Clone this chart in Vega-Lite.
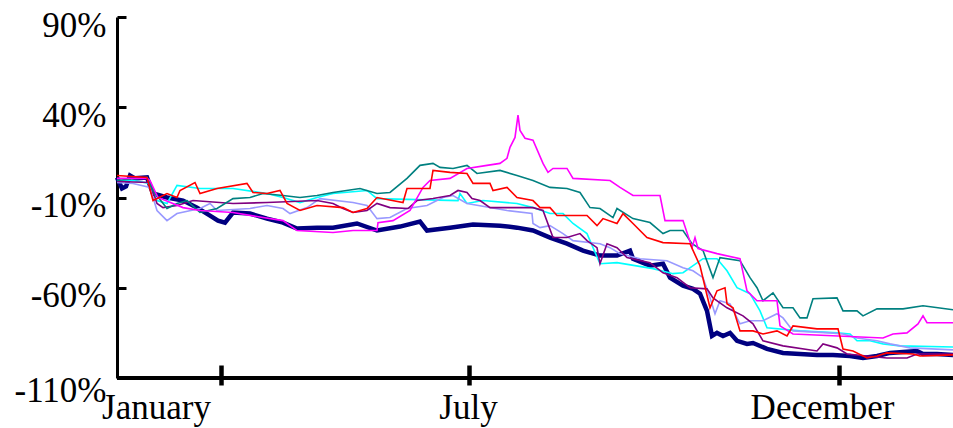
{
  "$schema": "https://vega.github.io/schema/vega-lite/v6.json",
  "width": 836,
  "height": 361,
  "autosize": {"type": "none"},
  "padding": {"left": 117, "top": 17, "right": 0, "bottom": 50},
  "background": "white",
  "config": {"view": {"stroke": null}, "axis": {"labelFont": "Liberation Serif", "labelFontSize": 35, "labelColor": "black", "domainColor": "black", "tickColor": "black", "grid": false, "title": null}},
  "data": {"values": [
    {"s":"navy","t":0,"v":1.1},{"s":"navy","t":5,"v":-5.0},{"s":"navy","t":9,"v":-3.9},{"s":"navy","t":13,"v":2.2},{"s":"navy","t":18,"v":0.6},{"s":"navy","t":30,"v":1.1},{"s":"navy","t":36,"v":-7.8},{"s":"navy","t":50,"v":-10.0},{"s":"navy","t":66,"v":-11.7},{"s":"navy","t":80,"v":-15.6},{"s":"navy","t":93,"v":-20.0},{"s":"navy","t":101,"v":-22.8},{"s":"navy","t":108,"v":-23.9},{"s":"navy","t":116,"v":-18.3},{"s":"navy","t":133,"v":-18.9},{"s":"navy","t":150,"v":-21.7},{"s":"navy","t":166,"v":-23.9},{"s":"navy","t":180,"v":-27.2},{"s":"navy","t":200,"v":-26.7},{"s":"navy","t":216,"v":-26.7},{"s":"navy","t":240,"v":-24.4},{"s":"navy","t":260,"v":-28.3},{"s":"navy","t":283,"v":-26.1},{"s":"navy","t":303,"v":-23.3},{"s":"navy","t":310,"v":-28.3},{"s":"navy","t":333,"v":-26.7},{"s":"navy","t":356,"v":-25.0},{"s":"navy","t":383,"v":-25.6},{"s":"navy","t":400,"v":-26.7},{"s":"navy","t":416,"v":-28.3},{"s":"navy","t":433,"v":-32.2},{"s":"navy","t":450,"v":-35.6},{"s":"navy","t":466,"v":-39.4},{"s":"navy","t":483,"v":-42.2},{"s":"navy","t":500,"v":-42.2},{"s":"navy","t":513,"v":-39.4},{"s":"navy","t":516,"v":-43.9},{"s":"navy","t":533,"v":-47.8},{"s":"navy","t":546,"v":-46.7},{"s":"navy","t":553,"v":-54.4},{"s":"navy","t":566,"v":-58.9},{"s":"navy","t":576,"v":-60.6},{"s":"navy","t":583,"v":-63.3},{"s":"navy","t":590,"v":-72.8},{"s":"navy","t":595,"v":-86.7},{"s":"navy","t":600,"v":-85.0},{"s":"navy","t":606,"v":-86.7},{"s":"navy","t":613,"v":-85.0},{"s":"navy","t":620,"v":-89.4},{"s":"navy","t":630,"v":-91.1},{"s":"navy","t":636,"v":-90.6},{"s":"navy","t":650,"v":-93.9},{"s":"navy","t":666,"v":-96.1},{"s":"navy","t":683,"v":-96.7},{"s":"navy","t":700,"v":-97.2},{"s":"navy","t":716,"v":-97.2},{"s":"navy","t":733,"v":-97.8},{"s":"navy","t":746,"v":-98.9},{"s":"navy","t":760,"v":-97.8},{"s":"navy","t":773,"v":-96.1},{"s":"navy","t":786,"v":-95.6},{"s":"navy","t":800,"v":-95.0},{"s":"navy","t":806,"v":-96.7},{"s":"navy","t":820,"v":-96.7},{"s":"navy","t":836,"v":-97.2},

    {"s":"cyan","t":0,"v":-0.6},{"s":"cyan","t":16,"v":-0.6},{"s":"cyan","t":33,"v":-2.2},{"s":"cyan","t":40,"v":-11.7},{"s":"cyan","t":50,"v":-13.3},{"s":"cyan","t":60,"v":-3.3},{"s":"cyan","t":83,"v":-5.0},{"s":"cyan","t":116,"v":-5.0},{"s":"cyan","t":150,"v":-7.8},{"s":"cyan","t":166,"v":-10.0},{"s":"cyan","t":183,"v":-12.8},{"s":"cyan","t":200,"v":-10.0},{"s":"cyan","t":216,"v":-7.8},{"s":"cyan","t":250,"v":-6.1},{"s":"cyan","t":260,"v":-10.6},{"s":"cyan","t":341,"v":-11.7},{"s":"cyan","t":343,"v":-7.8},{"s":"cyan","t":350,"v":-13.3},{"s":"cyan","t":366,"v":-11.7},{"s":"cyan","t":400,"v":-13.3},{"s":"cyan","t":416,"v":-15.6},{"s":"cyan","t":433,"v":-18.9},{"s":"cyan","t":446,"v":-18.9},{"s":"cyan","t":456,"v":-24.4},{"s":"cyan","t":470,"v":-30.0},{"s":"cyan","t":483,"v":-46.7},{"s":"cyan","t":500,"v":-46.1},{"s":"cyan","t":536,"v":-49.4},{"s":"cyan","t":556,"v":-52.2},{"s":"cyan","t":566,"v":-51.7},{"s":"cyan","t":586,"v":-43.9},{"s":"cyan","t":600,"v":-43.9},{"s":"cyan","t":610,"v":-50.6},{"s":"cyan","t":620,"v":-60.0},{"s":"cyan","t":633,"v":-63.3},{"s":"cyan","t":643,"v":-72.8},{"s":"cyan","t":650,"v":-82.2},{"s":"cyan","t":683,"v":-83.9},{"s":"cyan","t":720,"v":-85.0},{"s":"cyan","t":733,"v":-85.6},{"s":"cyan","t":740,"v":-89.4},{"s":"cyan","t":753,"v":-89.4},{"s":"cyan","t":766,"v":-91.1},{"s":"cyan","t":783,"v":-92.2},{"s":"cyan","t":836,"v":-92.8},

    {"s":"lavender","t":0,"v":-1.7},{"s":"lavender","t":16,"v":-2.2},{"s":"lavender","t":33,"v":-4.4},{"s":"lavender","t":40,"v":-17.2},{"s":"lavender","t":50,"v":-22.8},{"s":"lavender","t":60,"v":-18.9},{"s":"lavender","t":83,"v":-16.1},{"s":"lavender","t":93,"v":-13.3},{"s":"lavender","t":100,"v":-17.2},{"s":"lavender","t":133,"v":-16.1},{"s":"lavender","t":150,"v":-14.4},{"s":"lavender","t":166,"v":-16.1},{"s":"lavender","t":173,"v":-18.9},{"s":"lavender","t":190,"v":-15.6},{"s":"lavender","t":203,"v":-10.6},{"s":"lavender","t":236,"v":-12.8},{"s":"lavender","t":250,"v":-14.4},{"s":"lavender","t":260,"v":-21.7},{"s":"lavender","t":273,"v":-21.1},{"s":"lavender","t":290,"v":-16.1},{"s":"lavender","t":310,"v":-14.4},{"s":"lavender","t":326,"v":-10.0},{"s":"lavender","t":336,"v":-8.9},{"s":"lavender","t":350,"v":-13.3},{"s":"lavender","t":390,"v":-17.2},{"s":"lavender","t":415,"v":-18.9},{"s":"lavender","t":416,"v":-24.4},{"s":"lavender","t":423,"v":-26.7},{"s":"lavender","t":433,"v":-25.6},{"s":"lavender","t":446,"v":-30.0},{"s":"lavender","t":456,"v":-33.9},{"s":"lavender","t":483,"v":-35.6},{"s":"lavender","t":493,"v":-37.8},{"s":"lavender","t":503,"v":-41.1},{"s":"lavender","t":523,"v":-43.9},{"s":"lavender","t":550,"v":-45.0},{"s":"lavender","t":566,"v":-48.9},{"s":"lavender","t":576,"v":-50.6},{"s":"lavender","t":586,"v":-54.4},{"s":"lavender","t":593,"v":-65.6},{"s":"lavender","t":598,"v":-74.4},{"s":"lavender","t":603,"v":-67.2},{"s":"lavender","t":613,"v":-68.9},{"s":"lavender","t":623,"v":-80.0},{"s":"lavender","t":633,"v":-78.3},{"s":"lavender","t":646,"v":-78.3},{"s":"lavender","t":660,"v":-74.4},{"s":"lavender","t":666,"v":-76.7},{"s":"lavender","t":676,"v":-83.9},{"s":"lavender","t":713,"v":-85.0},{"s":"lavender","t":726,"v":-85.6},{"s":"lavender","t":740,"v":-87.8},{"s":"lavender","t":760,"v":-89.4},{"s":"lavender","t":773,"v":-91.1},{"s":"lavender","t":793,"v":-93.3},{"s":"lavender","t":836,"v":-94.4},

    {"s":"purple","t":0,"v":-1.1},{"s":"purple","t":33,"v":-1.7},{"s":"purple","t":40,"v":-13.3},{"s":"purple","t":46,"v":-15.6},{"s":"purple","t":60,"v":-14.4},{"s":"purple","t":76,"v":-11.7},{"s":"purple","t":116,"v":-13.3},{"s":"purple","t":150,"v":-12.8},{"s":"purple","t":200,"v":-11.7},{"s":"purple","t":216,"v":-13.3},{"s":"purple","t":226,"v":-16.1},{"s":"purple","t":236,"v":-18.3},{"s":"purple","t":250,"v":-17.2},{"s":"purple","t":260,"v":-13.3},{"s":"purple","t":273,"v":-15.6},{"s":"purple","t":291,"v":-16.1},{"s":"purple","t":300,"v":-11.7},{"s":"purple","t":316,"v":-10.6},{"s":"purple","t":333,"v":-8.9},{"s":"purple","t":341,"v":-6.1},{"s":"purple","t":350,"v":-7.2},{"s":"purple","t":355,"v":-10.6},{"s":"purple","t":363,"v":-11.7},{"s":"purple","t":373,"v":-15.6},{"s":"purple","t":416,"v":-15.6},{"s":"purple","t":426,"v":-17.2},{"s":"purple","t":436,"v":-32.2},{"s":"purple","t":450,"v":-32.2},{"s":"purple","t":463,"v":-30.0},{"s":"purple","t":470,"v":-33.9},{"s":"purple","t":480,"v":-37.8},{"s":"purple","t":483,"v":-46.7},{"s":"purple","t":490,"v":-35.6},{"s":"purple","t":500,"v":-37.8},{"s":"purple","t":510,"v":-43.3},{"s":"purple","t":533,"v":-46.1},{"s":"purple","t":546,"v":-51.7},{"s":"purple","t":560,"v":-54.4},{"s":"purple","t":573,"v":-60.0},{"s":"purple","t":590,"v":-60.6},{"s":"purple","t":596,"v":-65.6},{"s":"purple","t":610,"v":-71.1},{"s":"purple","t":626,"v":-75.6},{"s":"purple","t":636,"v":-80.0},{"s":"purple","t":646,"v":-89.4},{"s":"purple","t":666,"v":-92.2},{"s":"purple","t":700,"v":-95.0},{"s":"purple","t":706,"v":-91.1},{"s":"purple","t":720,"v":-93.3},{"s":"purple","t":730,"v":-96.7},{"s":"purple","t":770,"v":-98.9},{"s":"purple","t":790,"v":-98.9},{"s":"purple","t":800,"v":-96.7},{"s":"purple","t":836,"v":-96.7},

    {"s":"teal","t":0,"v":-0.6},{"s":"teal","t":30,"v":1.1},{"s":"teal","t":36,"v":-6.1},{"s":"teal","t":50,"v":-16.1},{"s":"teal","t":60,"v":-13.3},{"s":"teal","t":70,"v":-11.7},{"s":"teal","t":83,"v":-18.3},{"s":"teal","t":100,"v":-16.1},{"s":"teal","t":116,"v":-10.6},{"s":"teal","t":133,"v":-10.0},{"s":"teal","t":146,"v":-7.8},{"s":"teal","t":166,"v":-8.9},{"s":"teal","t":183,"v":-10.0},{"s":"teal","t":200,"v":-8.9},{"s":"teal","t":216,"v":-7.2},{"s":"teal","t":243,"v":-5.0},{"s":"teal","t":260,"v":-7.8},{"s":"teal","t":273,"v":-7.2},{"s":"teal","t":290,"v":0.6},{"s":"teal","t":303,"v":7.8},{"s":"teal","t":316,"v":8.9},{"s":"teal","t":323,"v":6.7},{"s":"teal","t":336,"v":6.1},{"s":"teal","t":350,"v":7.8},{"s":"teal","t":360,"v":3.3},{"s":"teal","t":383,"v":5.0},{"s":"teal","t":400,"v":2.2},{"s":"teal","t":416,"v":-0.6},{"s":"teal","t":433,"v":-4.4},{"s":"teal","t":450,"v":-5.0},{"s":"teal","t":463,"v":-7.2},{"s":"teal","t":473,"v":-15.6},{"s":"teal","t":483,"v":-16.1},{"s":"teal","t":496,"v":-21.1},{"s":"teal","t":500,"v":-16.1},{"s":"teal","t":516,"v":-21.7},{"s":"teal","t":533,"v":-23.9},{"s":"teal","t":546,"v":-30.0},{"s":"teal","t":553,"v":-28.3},{"s":"teal","t":566,"v":-28.3},{"s":"teal","t":575,"v":-35.6},{"s":"teal","t":586,"v":-39.4},{"s":"teal","t":596,"v":-54.4},{"s":"teal","t":603,"v":-43.3},{"s":"teal","t":623,"v":-45.0},{"s":"teal","t":633,"v":-54.4},{"s":"teal","t":640,"v":-60.0},{"s":"teal","t":646,"v":-67.2},{"s":"teal","t":656,"v":-62.8},{"s":"teal","t":666,"v":-71.1},{"s":"teal","t":676,"v":-71.1},{"s":"teal","t":683,"v":-76.7},{"s":"teal","t":690,"v":-76.7},{"s":"teal","t":696,"v":-66.1},{"s":"teal","t":720,"v":-65.6},{"s":"teal","t":726,"v":-72.8},{"s":"teal","t":740,"v":-72.8},{"s":"teal","t":746,"v":-75.6},{"s":"teal","t":760,"v":-71.7},{"s":"teal","t":786,"v":-71.7},{"s":"teal","t":806,"v":-70.0},{"s":"teal","t":836,"v":-72.2},

    {"s":"magenta","t":0,"v":0.6},{"s":"magenta","t":30,"v":0.6},{"s":"magenta","t":33,"v":-0.6},{"s":"magenta","t":41,"v":-10.0},{"s":"magenta","t":66,"v":-15.6},{"s":"magenta","t":83,"v":-17.2},{"s":"magenta","t":116,"v":-18.3},{"s":"magenta","t":146,"v":-21.1},{"s":"magenta","t":166,"v":-22.8},{"s":"magenta","t":180,"v":-28.3},{"s":"magenta","t":216,"v":-29.4},{"s":"magenta","t":236,"v":-28.3},{"s":"magenta","t":260,"v":-28.3},{"s":"magenta","t":261,"v":-23.9},{"s":"magenta","t":276,"v":-22.8},{"s":"magenta","t":293,"v":-17.2},{"s":"magenta","t":306,"v":-4.4},{"s":"magenta","t":313,"v":-0.6},{"s":"magenta","t":333,"v":0.6},{"s":"magenta","t":350,"v":6.1},{"s":"magenta","t":370,"v":7.8},{"s":"magenta","t":383,"v":8.9},{"s":"magenta","t":390,"v":11.7},{"s":"magenta","t":393,"v":17.8},{"s":"magenta","t":398,"v":23.3},{"s":"magenta","t":401,"v":35.6},{"s":"magenta","t":403,"v":27.2},{"s":"magenta","t":408,"v":22.8},{"s":"magenta","t":416,"v":21.7},{"s":"magenta","t":426,"v":8.9},{"s":"magenta","t":431,"v":3.9},{"s":"magenta","t":436,"v":6.1},{"s":"magenta","t":450,"v":6.1},{"s":"magenta","t":456,"v":0.6},{"s":"magenta","t":493,"v":-0.6},{"s":"magenta","t":503,"v":-4.4},{"s":"magenta","t":516,"v":-8.9},{"s":"magenta","t":543,"v":-8.9},{"s":"magenta","t":548,"v":-22.8},{"s":"magenta","t":566,"v":-22.8},{"s":"magenta","t":575,"v":-37.8},{"s":"magenta","t":578,"v":-32.2},{"s":"magenta","t":581,"v":-38.3},{"s":"magenta","t":600,"v":-41.1},{"s":"magenta","t":623,"v":-43.9},{"s":"magenta","t":630,"v":-61.7},{"s":"magenta","t":640,"v":-67.2},{"s":"magenta","t":660,"v":-67.2},{"s":"magenta","t":663,"v":-81.1},{"s":"magenta","t":676,"v":-85.6},{"s":"magenta","t":766,"v":-87.8},{"s":"magenta","t":776,"v":-85.6},{"s":"magenta","t":790,"v":-85.0},{"s":"magenta","t":801,"v":-80.0},{"s":"magenta","t":806,"v":-75.6},{"s":"magenta","t":810,"v":-79.4},{"s":"magenta","t":836,"v":-79.4},

    {"s":"red","t":0,"v":2.2},{"s":"red","t":30,"v":1.1},{"s":"red","t":36,"v":-11.7},{"s":"red","t":50,"v":-7.8},{"s":"red","t":60,"v":-10.0},{"s":"red","t":63,"v":-6.1},{"s":"red","t":78,"v":-1.7},{"s":"red","t":83,"v":-7.8},{"s":"red","t":100,"v":-5.0},{"s":"red","t":130,"v":-2.2},{"s":"red","t":136,"v":-7.2},{"s":"red","t":150,"v":-7.8},{"s":"red","t":163,"v":-6.1},{"s":"red","t":170,"v":-13.3},{"s":"red","t":183,"v":-17.2},{"s":"red","t":200,"v":-14.4},{"s":"red","t":226,"v":-15.6},{"s":"red","t":236,"v":-18.3},{"s":"red","t":250,"v":-16.1},{"s":"red","t":260,"v":-10.0},{"s":"red","t":286,"v":-12.8},{"s":"red","t":290,"v":-5.0},{"s":"red","t":313,"v":-5.0},{"s":"red","t":316,"v":5.0},{"s":"red","t":333,"v":3.9},{"s":"red","t":350,"v":3.3},{"s":"red","t":356,"v":-2.2},{"s":"red","t":373,"v":-2.2},{"s":"red","t":376,"v":-6.1},{"s":"red","t":390,"v":-4.4},{"s":"red","t":400,"v":-10.0},{"s":"red","t":416,"v":-11.7},{"s":"red","t":423,"v":-15.6},{"s":"red","t":433,"v":-15.6},{"s":"red","t":440,"v":-20.0},{"s":"red","t":470,"v":-20.0},{"s":"red","t":480,"v":-25.6},{"s":"red","t":486,"v":-21.7},{"s":"red","t":500,"v":-24.4},{"s":"red","t":506,"v":-18.9},{"s":"red","t":516,"v":-24.4},{"s":"red","t":530,"v":-32.2},{"s":"red","t":546,"v":-35.0},{"s":"red","t":573,"v":-35.6},{"s":"red","t":583,"v":-47.8},{"s":"red","t":593,"v":-71.1},{"s":"red","t":600,"v":-61.7},{"s":"red","t":608,"v":-60.0},{"s":"red","t":610,"v":-68.9},{"s":"red","t":616,"v":-71.1},{"s":"red","t":623,"v":-83.9},{"s":"red","t":636,"v":-83.9},{"s":"red","t":646,"v":-85.6},{"s":"red","t":660,"v":-83.9},{"s":"red","t":670,"v":-86.7},{"s":"red","t":676,"v":-81.1},{"s":"red","t":700,"v":-82.8},{"s":"red","t":721,"v":-82.8},{"s":"red","t":726,"v":-93.9},{"s":"red","t":736,"v":-95.0},{"s":"red","t":750,"v":-98.9},{"s":"red","t":760,"v":-97.8},{"s":"red","t":770,"v":-96.1},{"s":"red","t":796,"v":-96.7},{"s":"red","t":803,"v":-97.8},{"s":"red","t":836,"v":-97.2}
  ]},
  "layer": [
    {
      "transform": [{"filter": "datum.s == 'navy'"}],
      "mark": {"type": "line", "strokeWidth": 4.5, "clip": false},
      "encoding": {
        "x": {"field": "t", "type": "quantitative", "scale": {"domain": [0, 836], "nice": false, "zero": false},
          "axis": {"values": [104, 352, 722], "offset": -13, "domain": false, "tickSize": 20, "tickWidth": 4.5, "labelPadding": 33, "labelBaseline": "alphabetic", "labelAlign": "center",
            "labelExpr": "datum.value < 200 ? 'January' : (datum.value < 500 ? 'July' : 'December')",
            "labelOffset": {"condition": [{"test": "datum.value < 200", "value": -65}, {"test": "datum.value > 500", "value": -17}], "value": -1},
            "labelFlush": false, "labelOverlap": false}},
        "y": {"field": "v", "type": "quantitative", "scale": {"domain": [-110, 90], "nice": false, "zero": false},
          "axis": {"values": [-110, -60, -10, 40, 90], "domainWidth": 3, "tickSize": -9, "tickWidth": 3, "labelPadding": 20,
            "labelExpr": "datum.value + '%'", "labelBaseline": "middle",
            "labelOffset": {"condition": {"test": "datum.value == -110", "value": 12}, "value": 8},
            "labelFlush": false, "labelOverlap": false}},
        "color": {"field": "s", "type": "nominal", "legend": null,
          "scale": {"domain": ["navy", "cyan", "lavender", "purple", "teal", "magenta", "red"], "range": ["#000080", "#00ffff", "#9999ff", "#800080", "#008080", "#ff00ff", "#ff0000"]}}
      }
    },
    {
      "transform": [{"filter": "datum.s != 'navy'"}],
      "mark": {"type": "line", "strokeWidth": 1.6, "clip": false},
      "encoding": {
        "x": {"field": "t", "type": "quantitative"},
        "y": {"field": "v", "type": "quantitative"},
        "color": {"field": "s", "type": "nominal"}
      }
    },
    {
      "mark": {"type": "rule", "color": "black", "strokeWidth": 3},
      "encoding": {"y": {"datum": -110}}
    }
  ]
}
